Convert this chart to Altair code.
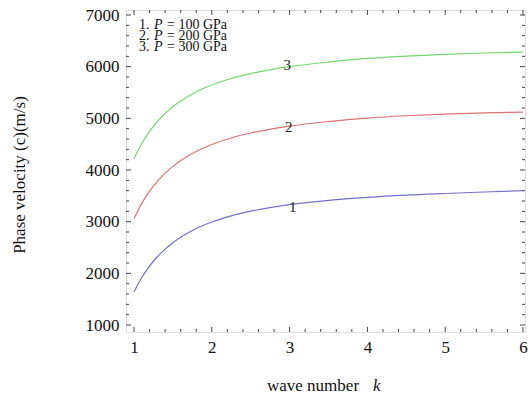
import altair as alt
import pandas as pd

# ---- data ----
k = [1, 1.1, 1.2, 1.3, 1.4, 1.5, 1.75, 2, 2.25, 2.5, 3, 3.5, 4, 4.5, 5, 5.5, 6]
v_100 = [1640, 1919, 2141, 2321, 2469, 2594, 2829, 2993, 3113, 3203, 3330, 3413, 3471, 3514, 3546, 3575, 3600]
v_200 = [3060, 3355, 3590, 3781, 3939, 4070, 4319, 4493, 4620, 4716, 4850, 4938, 5005, 5050, 5082, 5105, 5120]
v_300 = [4220, 4514, 4747, 4937, 5093, 5224, 5472, 5645, 5771, 5866, 6000, 6090, 6160, 6205, 6240, 6265, 6282]
series = ["1", "2", "3"]
colors = ["#7272cc", "#dc7272", "#72d872"]

lab_text = ["1", "2", "3"]
lab_k = [3.04, 2.99, 2.97]
lab_v = [3284, 4833, 6033]

legend_num = ["1.", "2.", "3."]
legend_val = ["= 100 GPa", "= 200 GPa", "= 300 GPa"]

x_major = [1, 2, 3, 4, 5, 6]
x_minor = [round(1 + 0.2 * i, 1) for i in range(26) if i % 5]
y_major = [1000, 2000, 3000, 4000, 5000, 6000, 7000]
y_minor = [v for v in range(1000, 7001, 200) if v % 1000]

W, H = 399, 322
FONT = "Liberation Serif, Times New Roman, DejaVu Serif, serif"
xs = alt.Scale(domain=[0.897, 6.026], nice=False, zero=False)
ys = alt.Scale(domain=[865, 7097], nice=False, zero=False)

rows = []
for s, vals in zip(series, [v_100, v_200, v_300]):
    for kk, vv in zip(k, vals):
        rows.append({"k": kk, "v": vv, "s": s})
df = pd.DataFrame(rows)

lines = alt.Chart(df).mark_line(strokeWidth=1.2, interpolate="monotone").encode(
    x=alt.X("k:Q", scale=xs,
            axis=alt.Axis(values=x_major, format="d", title=None, tickSize=0, domain=False, grid=False,
                          labelFont=FONT, labelFontSize=17, labelColor="#111", labelPadding=7)),
    y=alt.Y("v:Q", scale=ys,
            axis=alt.Axis(values=y_major, format="d", title=None, tickSize=0, domain=False, grid=False,
                          labelFont=FONT, labelFontSize=17, labelColor="#111", labelPadding=7)),
    color=alt.Color("s:N", scale=alt.Scale(domain=series, range=colors), legend=None),
)

labels = alt.Chart(pd.DataFrame({"t": lab_text, "k": lab_k, "v": lab_v})).mark_text(
    font=FONT, fontSize=15, color="#222", baseline="middle", align="center"
).encode(x=alt.X("k:Q", scale=xs), y=alt.Y("v:Q", scale=ys), text="t:N")

TC = "#444"
dx_maj = pd.DataFrame({"t": x_major})
dx_min = pd.DataFrame({"t": x_minor})
dy_maj = pd.DataFrame({"t": y_major})
dy_min = pd.DataFrame({"t": y_minor})

def xticks(d, L):
    b = alt.Chart(d).mark_rule(color=TC, strokeWidth=1).encode(
        x=alt.X("t:Q", scale=xs), y=alt.value(H), y2=alt.value(H - L))
    t = alt.Chart(d).mark_rule(color=TC, strokeWidth=1).encode(
        x=alt.X("t:Q", scale=xs), y=alt.value(0), y2=alt.value(L))
    return [b, t]

def yticks(d, L):
    l = alt.Chart(d).mark_rule(color=TC, strokeWidth=1).encode(
        y=alt.Y("t:Q", scale=ys), x=alt.value(0), x2=alt.value(L))
    r = alt.Chart(d).mark_rule(color=TC, strokeWidth=1).encode(
        y=alt.Y("t:Q", scale=ys), x=alt.value(W), x2=alt.value(W - L))
    return [l, r]

ticks = xticks(dx_maj, 5) + xticks(dx_min, 3) + yticks(dy_maj, 5) + yticks(dy_min, 3)

def txt(s, x, y, size=15, style="normal", align="left", angle=0):
    return alt.Chart(pd.DataFrame({"t": [s]})).mark_text(
        font=FONT, fontSize=size, fontStyle=style, align=align, baseline="middle",
        color="#111", angle=angle
    ).encode(text="t:N", x=alt.value(x), y=alt.value(y))

legend = []
LS = 14
for i, (n, v) in enumerate(zip(legend_num, legend_val)):
    yy = 15 + 11 * i
    legend.append(txt(n, 13, yy, size=LS))
    legend.append(txt("P", 28, yy, size=LS, style="italic"))
    legend.append(txt(v, 41, yy, size=LS))

titles = [
    txt("wave number", 141, 376, size=17),
    txt("k", 247, 376, size=17, style="italic"),
    txt("Phase velocity (c)(m/s)", -106, 165, size=17, align="center", angle=270),
]

chart = alt.layer(*ticks, lines, labels, *legend, *titles).properties(
    width=W, height=H,
    autosize=alt.AutoSizeParams(type="none"),
    padding={"left": 126, "top": 10, "right": 5, "bottom": 69},
).configure_view(stroke="#444", strokeWidth=1).configure(background="white")

chart.save("out.html", embed_options={"renderer": "svg", "actions": False})
